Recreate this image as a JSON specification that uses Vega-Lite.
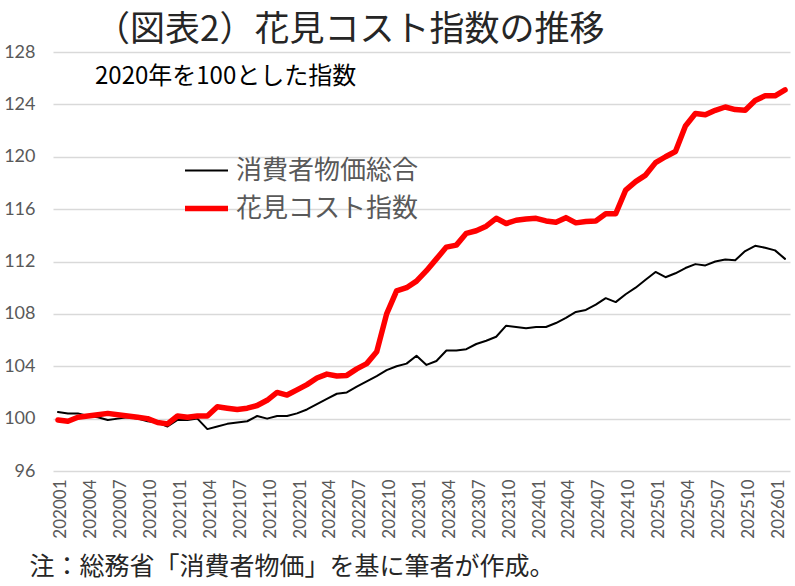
{
  "$schema": "https://vega.github.io/schema/vega-lite/v6.json",
  "autosize": {"type": "none"},
  "padding": {"left": 53, "top": 52, "right": 5, "bottom": 115},
  "width": 737,
  "height": 419,
  "background": "white",
  "title": {
    "text": "（図表2）花見コスト指数の推移",
    "subtitle": "2020年を100とした指数",
    "anchor": "start",
    "frame": "group",
    "dx": 42,
    "offset": -46,
    "font": "Noto Sans CJK JP",
    "fontSize": 35,
    "fontWeight": "normal",
    "color": "#262626",
    "subtitleFont": "Noto Sans CJK JP",
    "subtitleFontSize": 24,
    "subtitleColor": "#000000",
    "subtitlePadding": 17
  },
  "data": {
    "values": [
      {"m": "202001", "消費者物価総合": 100.5, "花見コスト指数": 99.9},
      {"m": "202002", "消費者物価総合": 100.4, "花見コスト指数": 99.8},
      {"m": "202003", "消費者物価総合": 100.4, "花見コスト指数": 100.1},
      {"m": "202004", "消費者物価総合": 100.2, "花見コスト指数": 100.2},
      {"m": "202005", "消費者物価総合": 100.1, "花見コスト指数": 100.3},
      {"m": "202006", "消費者物価総合": 99.9, "花見コスト指数": 100.4},
      {"m": "202007", "消費者物価総合": 100.0, "花見コスト指数": 100.3},
      {"m": "202008", "消費者物価総合": 100.1, "花見コスト指数": 100.2},
      {"m": "202009", "消費者物価総合": 100.0, "花見コスト指数": 100.1},
      {"m": "202010", "消費者物価総合": 99.8, "花見コスト指数": 100.0},
      {"m": "202011", "消費者物価総合": 99.7, "花見コスト指数": 99.7},
      {"m": "202012", "消費者物価総合": 99.4, "花見コスト指数": 99.6},
      {"m": "202101", "消費者物価総合": 99.9, "花見コスト指数": 100.2},
      {"m": "202102", "消費者物価総合": 99.9, "花見コスト指数": 100.1},
      {"m": "202103", "消費者物価総合": 100.0, "花見コスト指数": 100.2},
      {"m": "202104", "消費者物価総合": 99.2, "花見コスト指数": 100.2},
      {"m": "202105", "消費者物価総合": 99.4, "花見コスト指数": 100.9},
      {"m": "202106", "消費者物価総合": 99.6, "花見コスト指数": 100.8},
      {"m": "202107", "消費者物価総合": 99.7, "花見コスト指数": 100.7},
      {"m": "202108", "消費者物価総合": 99.8, "花見コスト指数": 100.8},
      {"m": "202109", "消費者物価総合": 100.2, "花見コスト指数": 101.0},
      {"m": "202110", "消費者物価総合": 100.0, "花見コスト指数": 101.4},
      {"m": "202111", "消費者物価総合": 100.2, "花見コスト指数": 102.0},
      {"m": "202112", "消費者物価総合": 100.2, "花見コスト指数": 101.8},
      {"m": "202201", "消費者物価総合": 100.4, "花見コスト指数": 102.2},
      {"m": "202202", "消費者物価総合": 100.7, "花見コスト指数": 102.6},
      {"m": "202203", "消費者物価総合": 101.1, "花見コスト指数": 103.1},
      {"m": "202204", "消費者物価総合": 101.5, "花見コスト指数": 103.4},
      {"m": "202205", "消費者物価総合": 101.9, "花見コスト指数": 103.25},
      {"m": "202206", "消費者物価総合": 102.0, "花見コスト指数": 103.3},
      {"m": "202207", "消費者物価総合": 102.45, "花見コスト指数": 103.8},
      {"m": "202208", "消費者物価総合": 102.85, "花見コスト指数": 104.2},
      {"m": "202209", "消費者物価総合": 103.25, "花見コスト指数": 105.1},
      {"m": "202210", "消費者物価総合": 103.7, "花見コスト指数": 108.0},
      {"m": "202211", "消費者物価総合": 104.0, "花見コスト指数": 109.75},
      {"m": "202212", "消費者物価総合": 104.2, "花見コスト指数": 110.0},
      {"m": "202301", "消費者物価総合": 104.8, "花見コスト指数": 110.5},
      {"m": "202302", "消費者物価総合": 104.1, "花見コスト指数": 111.3},
      {"m": "202303", "消費者物価総合": 104.4, "花見コスト指数": 112.2},
      {"m": "202304", "消費者物価総合": 105.2, "花見コスト指数": 113.1},
      {"m": "202305", "消費者物価総合": 105.2, "花見コスト指数": 113.25},
      {"m": "202306", "消費者物価総合": 105.3, "花見コスト指数": 114.15},
      {"m": "202307", "消費者物価総合": 105.7, "花見コスト指数": 114.35},
      {"m": "202308", "消費者物価総合": 105.95, "花見コスト指数": 114.7},
      {"m": "202309", "消費者物価総合": 106.25, "花見コスト指数": 115.3},
      {"m": "202310", "消費者物価総合": 107.1, "花見コスト指数": 114.9},
      {"m": "202311", "消費者物価総合": 107.0, "花見コスト指数": 115.15},
      {"m": "202312", "消費者物価総合": 106.9, "花見コスト指数": 115.25},
      {"m": "202401", "消費者物価総合": 107.0, "花見コスト指数": 115.3},
      {"m": "202402", "消費者物価総合": 107.0, "花見コスト指数": 115.1},
      {"m": "202403", "消費者物価総合": 107.3, "花見コスト指数": 115.0},
      {"m": "202404", "消費者物価総合": 107.7, "花見コスト指数": 115.35},
      {"m": "202405", "消費者物価総合": 108.15, "花見コスト指数": 114.95},
      {"m": "202406", "消費者物価総合": 108.3, "花見コスト指数": 115.05},
      {"m": "202407", "消費者物価総合": 108.7, "花見コスト指数": 115.1},
      {"m": "202408", "消費者物価総合": 109.2, "花見コスト指数": 115.65},
      {"m": "202409", "消費者物価総合": 108.9, "花見コスト指数": 115.65},
      {"m": "202410", "消費者物価総合": 109.5, "花見コスト指数": 117.45},
      {"m": "202411", "消費者物価総合": 110.0, "花見コスト指数": 118.1},
      {"m": "202412", "消費者物価総合": 110.6, "花見コスト指数": 118.6},
      {"m": "202501", "消費者物価総合": 111.2, "花見コスト指数": 119.55},
      {"m": "202502", "消費者物価総合": 110.8, "花見コスト指数": 120.0},
      {"m": "202503", "消費者物価総合": 111.1, "花見コスト指数": 120.4},
      {"m": "202504", "消費者物価総合": 111.5, "花見コスト指数": 122.35},
      {"m": "202505", "消費者物価総合": 111.8, "花見コスト指数": 123.3},
      {"m": "202506", "消費者物価総合": 111.7, "花見コスト指数": 123.2},
      {"m": "202507", "消費者物価総合": 112.0, "花見コスト指数": 123.55},
      {"m": "202508", "消費者物価総合": 112.15, "花見コスト指数": 123.8},
      {"m": "202509", "消費者物価総合": 112.1, "花見コスト指数": 123.6},
      {"m": "202510", "消費者物価総合": 112.8, "花見コスト指数": 123.55},
      {"m": "202511", "消費者物価総合": 113.2, "花見コスト指数": 124.3},
      {"m": "202512", "消費者物価総合": 113.05, "花見コスト指数": 124.65},
      {"m": "202601", "消費者物価総合": 112.85, "花見コスト指数": 124.65},
      {"m": "202602", "消費者物価総合": 112.2, "花見コスト指数": 125.1}
    ]
  },
  "transform": [
    {"fold": ["消費者物価総合", "花見コスト指数"], "as": ["series", "value"]}
  ],
  "mark": {"type": "line", "strokeJoin": "round", "strokeCap": "round"},
  "encoding": {
    "x": {
      "field": "m",
      "type": "ordinal",
      "sort": null,
      "scale": {"type": "point", "padding": 0.5},
      "axis": {
        "values": ["202001","202004","202007","202010","202101","202104","202107","202110","202201","202204","202207","202210","202301","202304","202307","202310","202401","202404","202407","202410","202501","202504","202507","202510","202601"],
        "labelAngle": 270,
        "labelPadding": 8,
        "labelOffset": 3,
        "labelFont": "Lato",
        "labelFontSize": 17,
        "labelColor": "#595959",
        "ticks": false,
        "domain": false,
        "grid": false,
        "title": "注：総務省「消費者物価」を基に筆者が作成。",
        "titleFont": "Noto Sans CJK JP",
        "titleFontSize": 25,
        "titleFontWeight": "normal",
        "titleColor": "#262626",
        "titleAlign": "left",
        "titleBaseline": "middle",
        "titleAnchor": "start",
        "titleX": -24,
        "titleY": 95
      }
    },
    "y": {
      "field": "value",
      "type": "quantitative",
      "scale": {"domain": [96, 128], "nice": false, "zero": false},
      "axis": {
        "values": [96, 100, 104, 108, 112, 116, 120, 124, 128],
        "labelFont": "Lato",
        "labelFontSize": 18,
        "labelColor": "#595959",
        "labelPadding": 18,
        "ticks": false,
        "domain": false,
        "gridColor": "#d9d9d9",
        "gridWidth": 1.5,
        "title": null
      }
    },
    "color": {
      "field": "series",
      "type": "nominal",
      "sort": ["消費者物価総合", "花見コスト指数"],
      "scale": {"domain": ["消費者物価総合", "花見コスト指数"], "range": ["#000000", "#ff0000"]},
      "legend": {
        "title": null,
        "orient": "none",
        "legendX": 129,
        "legendY": 96,
        "symbolType": "stroke",
        "symbolSize": 1849,
        "labelFont": "Noto Sans CJK JP",
        "labelFontSize": 26,
        "labelLimit": 0,
        "labelColor": "#595959",
        "labelOffset": 5,
        "rowPadding": -6
      }
    },
    "strokeWidth": {
      "field": "series",
      "type": "nominal",
      "sort": ["消費者物価総合", "花見コスト指数"],
      "scale": {"domain": ["消費者物価総合", "花見コスト指数"], "range": [2, 5.5]},
      "legend": {
        "title": null,
        "orient": "none",
        "legendX": 129,
        "legendY": 96,
        "symbolType": "stroke",
        "symbolSize": 1849,
        "labelFont": "Noto Sans CJK JP",
        "labelFontSize": 26,
        "labelLimit": 0,
        "labelColor": "#595959",
        "labelOffset": 5,
        "rowPadding": -6
      }
    }
  },
  "config": {
    "view": {"stroke": null}
  }
}
